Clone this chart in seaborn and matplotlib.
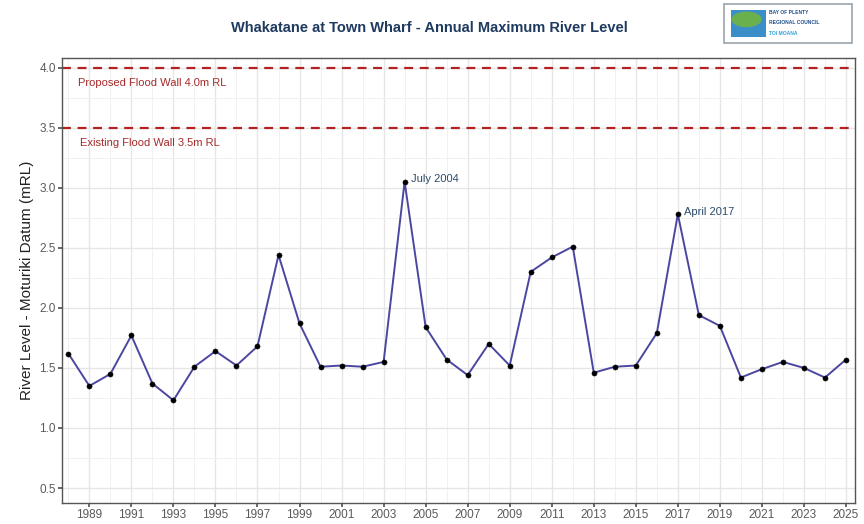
import numpy as np
import matplotlib.pyplot as plt
import matplotlib.patches as mpatches
import pandas as pd
import seaborn as sns

# Data
years = list(range(1988, 2026))
levels = [1.62, 1.35, 1.45, 1.77, 1.37, 1.23, 1.51, 1.64, 1.52, 1.68,
          2.44, 1.87, 1.51, 1.52, 1.51, 1.55, 3.05, 1.84, 1.57, 1.44,
          1.70, 1.52, 2.30, 2.42, 2.51, 1.46, 1.51, 1.52, 1.79, 2.78,
          1.94, 1.85, 1.42, 1.49, 1.55, 1.50, 1.42, 1.57]
wall_levels = [4.0, 3.5]
wall_labels = ["Proposed Flood Wall 4.0m RL", "Existing Flood Wall 3.5m RL"]
event_years = [2004, 2017]
event_labels = ["July 2004", "April 2017"]

df = pd.DataFrame({"year": years, "level": levels})

sns.set_theme(style="white")
plt.rcParams['font.family'] = ['Liberation Sans', 'DejaVu Sans']

fig = plt.figure(figsize=(8.64, 5.24), dpi=100)
ax = fig.add_axes([0.0718, 0.04, 0.9178, 0.8492])

# grid like ggplot theme_bw
ax.set_xticks(range(1989, 2026, 2))
ax.set_xticks(range(1988, 2026, 2), minor=True)
ax.set_yticks(np.arange(0.5, 4.01, 0.5))
ax.set_yticks(np.arange(0.25, 4.1, 0.5), minor=True)
ax.grid(which="major", color="#e6e6e6", linewidth=1.0)
ax.grid(which="minor", color="#f1f1f1", linewidth=0.7)
ax.set_axisbelow(True)

for lvl, lab, x0 in zip(wall_levels, wall_labels, [1988.45, 1988.55]):
    ax.axhline(lvl, color="#b22222", linestyle=(0, (4, 3)), linewidth=1.6)
    ax.text(x0, lvl - 0.125, lab, color="#a52a2a", fontsize=8,
            va="center", ha="left")

sns.lineplot(data=df, x="year", y="level", ax=ax, color="#4b47a0", linewidth=1.4)
sns.scatterplot(data=df, x="year", y="level", ax=ax, color="black", s=14,
                edgecolor="black", zorder=3)

for yr, lab in zip(event_years, event_labels):
    val = df.loc[df.year == yr, "level"].values[0]
    ax.text(yr + 0.3, val + 0.02, lab, color="#2b4a6b", fontsize=8,
            va="center", ha="left")

ax.set_xlim(1987.7, 2025.43)
ax.set_ylim(0.375, 4.08)
ax.set_xlabel("")
ax.set_ylabel("River Level - Moturiki Datum (mRL)", fontsize=11, color="#222222")
ax.tick_params(axis="both", which="major", length=3, color="#555555",
               labelsize=8.5, labelcolor="#5a5a5a", bottom=True, left=True, pad=1.5)
ax.tick_params(which="minor", length=0)
for s in ax.spines.values():
    s.set_color("#555555")
    s.set_linewidth(1.0)

fig.text(0.497, 0.946, "Whakatane at Town Wharf - Annual Maximum River Level",
         ha="center", va="center", fontsize=10.5, fontweight="bold", color="#1f3a5f")

# logo box
lx, ly, lw, lh = 0.838, 0.918, 0.148, 0.075
fig.patches.append(mpatches.Rectangle((lx, ly), lw, lh, transform=fig.transFigure,
                                      facecolor="white", edgecolor="#9aa3ad", linewidth=1.2))
fig.patches.append(mpatches.Rectangle((lx + 0.008, ly + 0.012), 0.04, lh - 0.024,
                                      transform=fig.transFigure, facecolor="#3a8fc8",
                                      edgecolor="none"))
fig.patches.append(mpatches.Ellipse((lx + 0.026, ly + 0.045), 0.035, 0.03,
                                    transform=fig.transFigure, facecolor="#6ab04c",
                                    edgecolor="none"))
fig.text(lx + 0.052, ly + 0.056, "BAY OF PLENTY", fontsize=3.6, fontweight="bold", color="#1c4f8a")
fig.text(lx + 0.052, ly + 0.036, "REGIONAL COUNCIL", fontsize=3.6, fontweight="bold", color="#1c4f8a")
fig.text(lx + 0.052, ly + 0.016, "TOI MOANA", fontsize=3.6, fontweight="bold", color="#2fa0d8")

fig.savefig("out.png", dpi=100)
